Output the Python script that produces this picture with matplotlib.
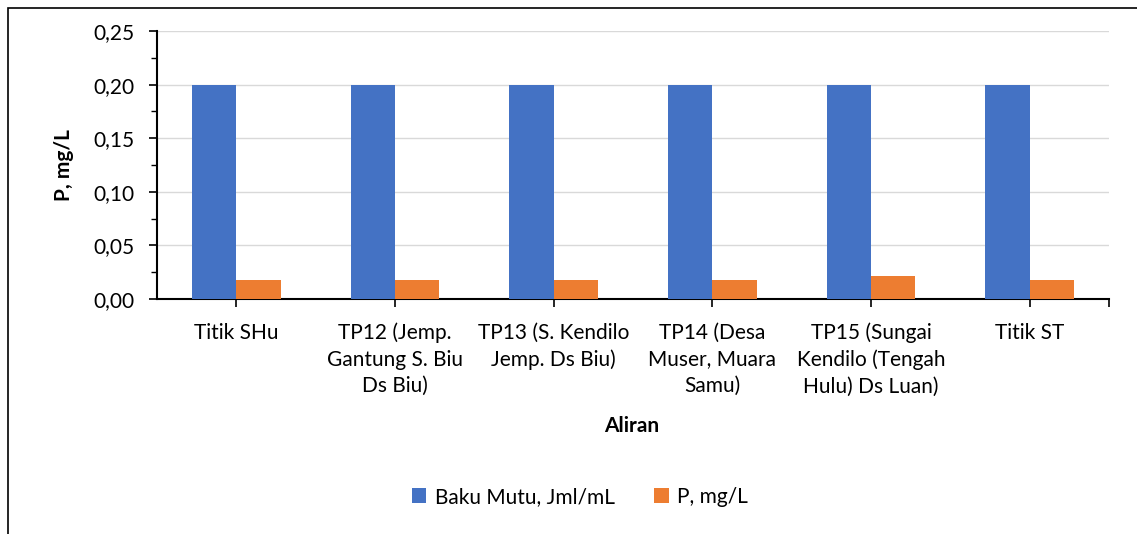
import matplotlib
matplotlib.use("Agg")
import matplotlib.pyplot as plt
import numpy as np
from matplotlib.patches import Rectangle
from matplotlib.ticker import MultipleLocator, FixedLocator

categories = [
    "Titik SHu",
    "TP12 (Jemp.\nGantung S. Biu\nDs Biu)",
    "TP13 (S. Kendilo\nJemp. Ds Biu)",
    "TP14 (Desa\nMuser, Muara\nSamu)",
    "TP15 (Sungai\nKendilo (Tengah\nHulu) Ds Luan)",
    "Titik ST",
]
baku_mutu = [0.20, 0.20, 0.20, 0.20, 0.20, 0.20]
p_values = [0.018, 0.018, 0.018, 0.018, 0.021, 0.018]

BLUE = "#4472C4"
ORANGE = "#ED7D31"
FS = 15

plt.rcParams["font.family"] = ["Lato", "DejaVu Sans"]

W, H = 1137, 534
fig = plt.figure(figsize=(W / 100, H / 100), dpi=100)
ax = fig.add_axes([157 / W, 1 - 299 / H, (1109 - 157) / W, (299 - 31) / H])

# outer chart frame (cut off at right/bottom like the reference)
fig.patches.append(Rectangle((8 / W, -0.05), 1.2, 1 - 8 / H + 0.05,
                             transform=fig.transFigure, fill=False,
                             edgecolor="black", linewidth=1.2))

x = np.arange(len(categories))
w = 0.28
ax.bar(x - w / 2, baku_mutu, w, color=BLUE, label="Baku Mutu, Jml/mL", zorder=3)
ax.bar(x + w / 2, p_values, w, color=ORANGE, label="P, mg/L", zorder=3)

ax.set_xlim(-0.5, len(categories) - 0.5)
ax.set_ylim(0, 0.25)
ax.yaxis.set_major_locator(MultipleLocator(0.05))
ax.yaxis.set_minor_locator(MultipleLocator(0.025))
ax.set_yticklabels([f"{v:.2f}".replace(".", ",") for v in ax.get_yticks()])
ax.grid(axis="y", color="#D9D9D9", linewidth=1, zorder=0)

ax.set_xticks(x)
ax.set_xticklabels(categories, fontsize=FS, linespacing=1.4, va="top")
ax.xaxis.set_minor_locator(FixedLocator([len(categories) - 0.5]))
ax.tick_params(axis="x", which="both", length=6, width=1.2, direction="out", pad=11)
ax.tick_params(axis="y", which="major", length=6, width=1.2, labelsize=FS, pad=10)
ax.tick_params(axis="y", which="minor", length=4, width=1.0)

for s in ["top", "right"]:
    ax.spines[s].set_visible(False)
for s in ["left", "bottom"]:
    ax.spines[s].set_linewidth(1.5)
    ax.spines[s].set_color("black")

ax.set_ylabel("P, mg/L", fontsize=FS, fontweight="bold")
ax.yaxis.set_label_coords((74 - 157) / (1109 - 157), 0.5)
fig.text(632 / W, 1 - 426 / H, "Aliran", fontsize=FS, fontweight="bold",
         ha="center", va="center")

fig.legend(loc="center", bbox_to_anchor=(580 / W, 1 - 497 / H), ncol=2,
           frameon=False, fontsize=FS, handlelength=0.7, handleheight=0.7,
           columnspacing=1.9, handletextpad=0.4)

fig.savefig("out.png", dpi=100)
